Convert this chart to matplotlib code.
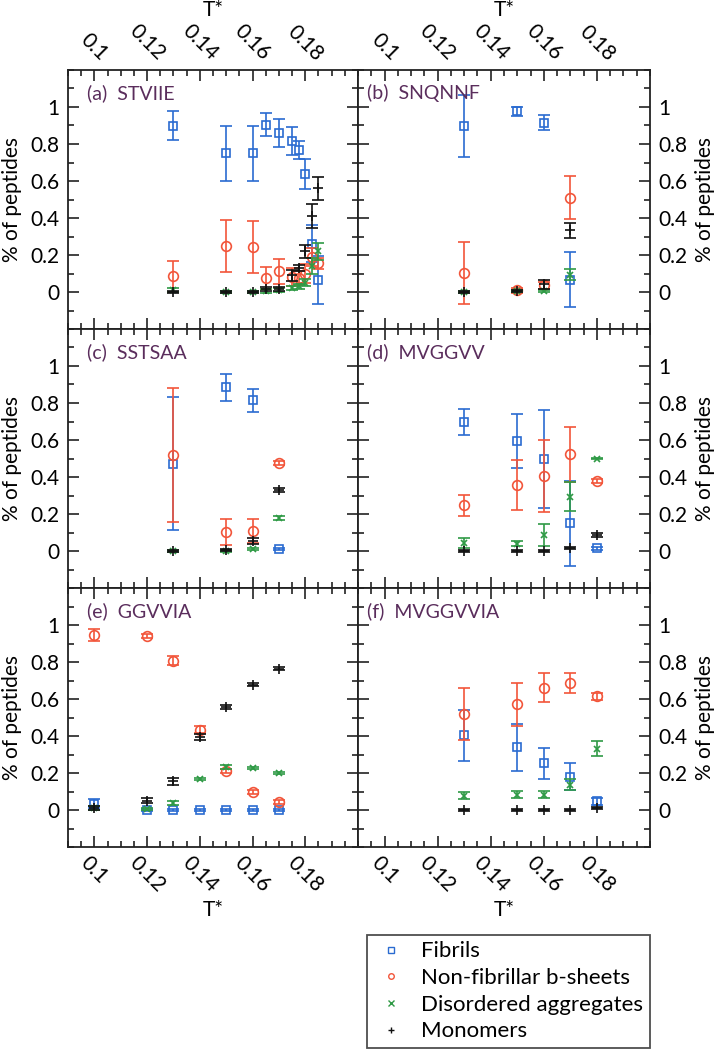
import matplotlib
matplotlib.use("Agg")
import matplotlib.pyplot as plt
from matplotlib.ticker import FixedLocator, MultipleLocator
from matplotlib.lines import Line2D

plt.rcParams['font.family'] = ['Lato', 'DejaVu Sans']

# ---------------- data ----------------
series_names = ["Fibrils", "Non-fibrillar b-sheets", "Disordered aggregates", "Monomers"]
panel_titles = ["(a)  STVIIE", "(b)  SNQNNF", "(c)  SSTSAA", "(d)  MVGGVV", "(e)  GGVVIA", "(f)  MVGGVVIA"]

# (a) STVIIE
a_T = [0.13, 0.15, 0.16, 0.165, 0.17, 0.175, 0.1775, 0.18, 0.1825, 0.185]
a_fib = [0.90, 0.75, 0.75, 0.905, 0.86, 0.816, 0.766, 0.64, 0.26, 0.063]
a_fib_err = [0.077, 0.15, 0.15, 0.061, 0.074, 0.077, 0.048, 0.081, 0.10, 0.13]
a_nfb = [0.085, 0.249, 0.243, 0.076, 0.113, 0.08, 0.076, 0.10, 0.19, 0.155]
a_nfb_err = [0.084, 0.14, 0.14, 0.058, 0.068, 0.05, 0.04, 0.05, 0.05, 0.03]
a_dis = [0.01, 0.0, 0.0, 0.005, 0.01, 0.02, 0.03, 0.05, 0.14, 0.22]
a_dis_err = [0.01, 0.005, 0.005, 0.01, 0.01, 0.01, 0.015, 0.02, 0.045, 0.045]
a_mon = [0.0, 0.0, 0.0, 0.015, 0.015, 0.09, 0.13, 0.22, 0.41, 0.56]
a_mon_err = [0.005, 0.005, 0.005, 0.01, 0.01, 0.03, 0.015, 0.035, 0.065, 0.063]

# (b) SNQNNF
b_T = [0.13, 0.15, 0.16, 0.17]
b_fib = [0.896, 0.977, 0.915, 0.067]
b_fib_err = [0.167, 0.025, 0.042, 0.147]
b_nfb = [0.103, 0.009, 0.036, 0.51]
b_nfb_err = [0.168, 0.015, 0.02, 0.117]
b_dis = [0.0, 0.005, 0.005, 0.094]
b_dis_err = [0.005, 0.005, 0.005, 0.03]
b_mon = [0.0, 0.005, 0.041, 0.333]
b_mon_err = [0.005, 0.005, 0.025, 0.04]

# (c) SSTSAA
c_T = [0.13, 0.15, 0.16, 0.17]
c_fib = [0.472, 0.885, 0.814, 0.009]
c_fib_err = [0.36, 0.074, 0.064, 0.005]
c_nfb = [0.519, 0.103, 0.108, 0.474]
c_nfb_err = [0.363, 0.072, 0.065, 0.01]
c_dis = [0.0, 0.0, 0.013, 0.177]
c_dis_err = [0.005, 0.005, 0.005, 0.01]
c_mon = [0.0, 0.005, 0.054, 0.329]
c_mon_err = [0.005, 0.005, 0.015, 0.01]

# (d) MVGGVV
d_T = [0.13, 0.15, 0.16, 0.17, 0.18]
d_fib = [0.697, 0.595, 0.495, 0.15, 0.014]
d_fib_err = [0.068, 0.144, 0.265, 0.23, 0.01]
d_nfb = [0.247, 0.357, 0.405, 0.523, 0.378]
d_nfb_err = [0.057, 0.135, 0.193, 0.149, 0.01]
d_dis = [0.045, 0.04, 0.086, 0.294, 0.50]
d_dis_err = [0.027, 0.015, 0.058, 0.08, 0.005]
d_mon = [0.0, 0.0, 0.0, 0.018, 0.087]
d_mon_err = [0.003, 0.003, 0.003, 0.005, 0.012]

# (e) GGVVIA
e_T = [0.10, 0.12, 0.13, 0.14, 0.15, 0.16, 0.17]
e_fib = [0.035, 0.0, 0.0, 0.0, 0.0, 0.0, 0.0]
e_fib_err = [0.025, 0.003, 0.003, 0.003, 0.003, 0.003, 0.003]
e_nfb = [0.946, 0.94, 0.807, 0.434, 0.21, 0.096, 0.042]
e_nfb_err = [0.03, 0.01, 0.025, 0.02, 0.01, 0.01, 0.01]
e_dis = [0.01, 0.005, 0.038, 0.168, 0.231, 0.228, 0.199]
e_dis_err = [0.01, 0.005, 0.01, 0.005, 0.01, 0.005, 0.005]
e_mon = [0.011, 0.051, 0.155, 0.394, 0.557, 0.678, 0.763]
e_mon_err = [0.01, 0.015, 0.02, 0.015, 0.01, 0.01, 0.008]

# (f) MVGGVVIA
f_T = [0.13, 0.15, 0.16, 0.17, 0.18]
f_fib = [0.403, 0.34, 0.253, 0.181, 0.047]
f_fib_err = [0.14, 0.127, 0.084, 0.074, 0.02]
f_nfb = [0.521, 0.571, 0.662, 0.684, 0.615]
f_nfb_err = [0.141, 0.115, 0.077, 0.054, 0.02]
f_dis = [0.078, 0.083, 0.083, 0.137, 0.331]
f_dis_err = [0.02, 0.02, 0.02, 0.03, 0.04]
f_mon = [0.0, 0.0, 0.0, 0.0, 0.01]
f_mon_err = [0.003, 0.003, 0.003, 0.003, 0.005]

x_ticks = [0.10, 0.12, 0.14, 0.16, 0.18]
x_ticklabels = ["0.1", "0.12", "0.14", "0.16", "0.18"]
y_ticks = [0, 0.2, 0.4, 0.6, 0.8, 1.0]
y_ticklabels = ["0", "0.2", "0.4", "0.6", "0.8", "1"]

panels = [
    (a_T, [(a_fib, a_fib_err), (a_nfb, a_nfb_err), (a_dis, a_dis_err), (a_mon, a_mon_err)]),
    (b_T, [(b_fib, b_fib_err), (b_nfb, b_nfb_err), (b_dis, b_dis_err), (b_mon, b_mon_err)]),
    (c_T, [(c_fib, c_fib_err), (c_nfb, c_nfb_err), (c_dis, c_dis_err), (c_mon, c_mon_err)]),
    (d_T, [(d_fib, d_fib_err), (d_nfb, d_nfb_err), (d_dis, d_dis_err), (d_mon, d_mon_err)]),
    (e_T, [(e_fib, e_fib_err), (e_nfb, e_nfb_err), (e_dis, e_dis_err), (e_mon, e_mon_err)]),
    (f_T, [(f_fib, f_fib_err), (f_nfb, f_nfb_err), (f_dis, f_dis_err), (f_mon, f_mon_err)]),
]

# ---------------- style ----------------
colors = ["#2a6bd1", "#f2553a", "#2f9a45", "#111111"]
markers = ["s", "o", "x", "+"]
msizes = [6.0, 7.0, 4.5, 6.5]
title_color = "#5a2d5c"
fs = 15

fig = plt.figure(figsize=(7.18, 10.5), dpi=100)
W, H = 718.0, 1050.0
col_x = [68, 358]
col_w = [290, 292]
row_top = [70, 329, 588]
row_h = 259

axes = []
for i in range(6):
    r, c = divmod(i, 2)
    left = col_x[c] / W
    bottom = 1 - (row_top[r] + row_h) / H
    ax = fig.add_axes([left, bottom, col_w[c] / W, row_h / H])
    axes.append(ax)

for i, ax in enumerate(axes):
    r, c = divmod(i, 2)
    T, series = panels[i]
    for k, (vals, errs) in enumerate(series):
        ax.errorbar(T, vals, yerr=errs, fmt=markers[k], color=colors[k],
                    mfc='none' if k < 2 else colors[k], mec=colors[k],
                    ms=msizes[k], mew=1.2, elinewidth=1.2, capsize=4, capthick=1.2,
                    ecolor=colors[k], zorder=3 + k)
    ax.set_xlim(0.09, 0.2)
    ax.set_ylim(-0.2, 1.2)
    ax.xaxis.set_major_locator(FixedLocator(x_ticks))
    ax.xaxis.set_minor_locator(MultipleLocator(0.005))
    ax.yaxis.set_major_locator(FixedLocator(y_ticks))
    ax.yaxis.set_minor_locator(MultipleLocator(0.1))
    ax.set_xticklabels(x_ticklabels)
    ax.set_yticklabels(y_ticklabels)
    for sp in ax.spines.values():
        sp.set_linewidth(1.3)
        sp.set_color("#222222")
    ax.tick_params(which='both', direction='in', top=True, bottom=True, left=True, right=True,
                   color="#222222", width=1.2, labelsize=fs)
    ax.tick_params(which='major', length=8)
    ax.tick_params(which='minor', length=4.5)
    ax.tick_params(axis='x', labeltop=(r == 0), labelbottom=(r == 2), pad=4)
    ax.tick_params(axis='y', labelleft=(c == 0), labelright=(c == 1), pad=6)
    if r != 1:
        for lab in (ax.get_xticklabels()):
            lab.set_rotation(-45)
            lab.set_ha('center')
    if r == 0:
        ax.xaxis.set_label_position('top')
        ax.set_xlabel("T*", fontsize=fs)
        ax.xaxis.set_label_coords(0.5, 1.232)
        ax.xaxis.label.set_va('center')
    elif r == 2:
        ax.set_xlabel("T*", fontsize=fs)
        ax.xaxis.set_label_coords(0.5, -0.245)
        ax.xaxis.label.set_va('center')
    if c == 0:
        ax.set_ylabel("% of peptides", fontsize=fs)
        ax.yaxis.set_label_coords(-0.193, 0.5)
        ax.yaxis.label.set_va('center')
    else:
        ax.yaxis.set_label_position('right')
        ax.set_ylabel("% of peptides", fontsize=fs, rotation=90)
        ax.yaxis.set_label_coords(1.188, 0.5)
        ax.yaxis.label.set_va('center')
    ax.text(0.065 if c == 0 else 0.03, 0.91, panel_titles[i], transform=ax.transAxes,
            color=title_color, fontsize=14, ha='left', va='center', zorder=10)

handles = [Line2D([], [], linestyle='none', marker=markers[k], color=colors[k],
                  mfc='none' if k < 2 else colors[k], ms=4, mew=1.0) for k in range(4)]
leg = fig.legend(handles, series_names, loc='lower left',
                 bbox_to_anchor=(367 / W, 1 - 1048 / H), fontsize=16,
                 frameon=True, fancybox=False, handlelength=1.6, handletextpad=0.55,
                 borderpad=0.3, labelspacing=0.3, borderaxespad=0)
leg.get_frame().set_edgecolor("#222222")
leg.get_frame().set_linewidth(1.3)

fig.savefig("out.png", dpi=100)
